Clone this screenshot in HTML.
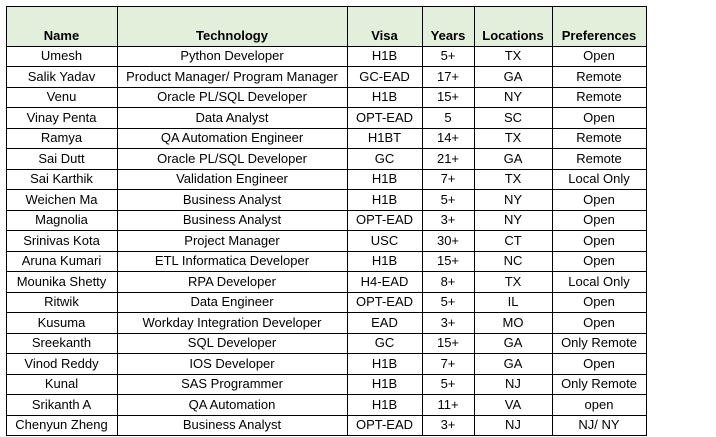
<!DOCTYPE html>
<html>
<head>
<meta charset="utf-8">
<style>
html,body{margin:0;padding:0;background:#fff;}
body{width:716px;height:437px;position:relative;overflow:hidden;font-family:"Liberation Sans",Arial,sans-serif;font-size:13px;color:#000;}
.hbg{position:absolute;left:6px;top:6px;width:640px;height:40px;background:#e2efda;}
.r{position:absolute;left:6px;display:flex;white-space:nowrap;}
.r div{text-align:center;overflow:visible;}
.c1{width:111px}.c2{width:230px}.c3{width:75px}.c4{width:52px}.c5{width:78px}.c6{width:94px}
.h{top:6px;height:40px;font-weight:bold;}
.h div{padding-top:20px;line-height:20px;height:20px;}
.v{position:absolute;top:6px;height:430px;width:1px;background:#000;}
.l{position:absolute;left:6px;width:641px;height:1px;background:#000;}
</style>
</head>
<body>
<div class="hbg"></div>

<div class="r h"><div class="c1">Name</div><div class="c2">Technology</div><div class="c3">Visa</div><div class="c4">Years</div><div class="c5">Locations</div><div class="c6">Preferences</div></div>

<div class="r" style="top:46px;height:20px;line-height:20px"><div class="c1">Umesh</div><div class="c2">Python Developer</div><div class="c3">H1B</div><div class="c4">5+</div><div class="c5">TX</div><div class="c6">Open</div></div>
<div class="r" style="top:66px;height:21px;line-height:21px"><div class="c1">Salik Yadav</div><div class="c2">Product Manager/ Program Manager</div><div class="c3">GC-EAD</div><div class="c4">17+</div><div class="c5">GA</div><div class="c6">Remote</div></div>
<div class="r" style="top:87px;height:20px;line-height:20px"><div class="c1">Venu</div><div class="c2">Oracle PL/SQL Developer</div><div class="c3">H1B</div><div class="c4">15+</div><div class="c5">NY</div><div class="c6">Remote</div></div>
<div class="r" style="top:107px;height:21px;line-height:21px"><div class="c1">Vinay Penta</div><div class="c2">Data Analyst</div><div class="c3">OPT-EAD</div><div class="c4">5</div><div class="c5">SC</div><div class="c6">Open</div></div>
<div class="r" style="top:128px;height:20px;line-height:20px"><div class="c1">Ramya</div><div class="c2">QA Automation Engineer</div><div class="c3">H1BT</div><div class="c4">14+</div><div class="c5">TX</div><div class="c6">Remote</div></div>
<div class="r" style="top:148px;height:21px;line-height:21px"><div class="c1">Sai Dutt</div><div class="c2">Oracle PL/SQL Developer</div><div class="c3">GC</div><div class="c4">21+</div><div class="c5">GA</div><div class="c6">Remote</div></div>
<div class="r" style="top:169px;height:20px;line-height:20px"><div class="c1">Sai Karthik</div><div class="c2">Validation Engineer</div><div class="c3">H1B</div><div class="c4">7+</div><div class="c5">TX</div><div class="c6">Local Only</div></div>
<div class="r" style="top:189px;height:21px;line-height:21px"><div class="c1">Weichen Ma</div><div class="c2">Business Analyst</div><div class="c3">H1B</div><div class="c4">5+</div><div class="c5">NY</div><div class="c6">Open</div></div>
<div class="r" style="top:210px;height:20px;line-height:20px"><div class="c1">Magnolia</div><div class="c2">Business Analyst</div><div class="c3">OPT-EAD</div><div class="c4">3+</div><div class="c5">NY</div><div class="c6">Open</div></div>
<div class="r" style="top:230px;height:21px;line-height:21px"><div class="c1">Srinivas Kota</div><div class="c2">Project Manager</div><div class="c3">USC</div><div class="c4">30+</div><div class="c5">CT</div><div class="c6">Open</div></div>
<div class="r" style="top:251px;height:20px;line-height:20px"><div class="c1">Aruna Kumari</div><div class="c2">ETL Informatica Developer</div><div class="c3">H1B</div><div class="c4">15+</div><div class="c5">NC</div><div class="c6">Open</div></div>
<div class="r" style="top:271px;height:21px;line-height:21px"><div class="c1">Mounika Shetty</div><div class="c2">RPA Developer</div><div class="c3">H4-EAD</div><div class="c4">8+</div><div class="c5">TX</div><div class="c6">Local Only</div></div>
<div class="r" style="top:292px;height:20px;line-height:20px"><div class="c1">Ritwik</div><div class="c2">Data Engineer</div><div class="c3">OPT-EAD</div><div class="c4">5+</div><div class="c5">IL</div><div class="c6">Open</div></div>
<div class="r" style="top:312px;height:21px;line-height:21px"><div class="c1">Kusuma</div><div class="c2">Workday Integration Developer</div><div class="c3">EAD</div><div class="c4">3+</div><div class="c5">MO</div><div class="c6">Open</div></div>
<div class="r" style="top:333px;height:20px;line-height:20px"><div class="c1">Sreekanth</div><div class="c2">SQL Developer</div><div class="c3">GC</div><div class="c4">15+</div><div class="c5">GA</div><div class="c6">Only Remote</div></div>
<div class="r" style="top:353px;height:21px;line-height:21px"><div class="c1">Vinod Reddy</div><div class="c2">IOS Developer</div><div class="c3">H1B</div><div class="c4">7+</div><div class="c5">GA</div><div class="c6">Open</div></div>
<div class="r" style="top:374px;height:20px;line-height:20px"><div class="c1">Kunal</div><div class="c2">SAS Programmer</div><div class="c3">H1B</div><div class="c4">5+</div><div class="c5">NJ</div><div class="c6">Only Remote</div></div>
<div class="r" style="top:394px;height:21px;line-height:21px"><div class="c1">Srikanth A</div><div class="c2">QA Automation</div><div class="c3">H1B</div><div class="c4">11+</div><div class="c5">VA</div><div class="c6">open</div></div>
<div class="r" style="top:415px;height:20px;line-height:20px"><div class="c1">Chenyun Zheng</div><div class="c2">Business Analyst</div><div class="c3">OPT-EAD</div><div class="c4">3+</div><div class="c5">NJ</div><div class="c6">NJ/ NY</div></div>

<!-- vertical lines -->
<div class="v" style="left:6px"></div>
<div class="v" style="left:117px"></div>
<div class="v" style="left:347px"></div>
<div class="v" style="left:422px"></div>
<div class="v" style="left:474px"></div>
<div class="v" style="left:552px"></div>
<div class="v" style="left:646px"></div>

<!-- horizontal lines -->
<div class="l" style="top:6px"></div>
<div class="l" style="top:46px"></div>
<div class="l" style="top:66px"></div>
<div class="l" style="top:87px"></div>
<div class="l" style="top:107px"></div>
<div class="l" style="top:128px"></div>
<div class="l" style="top:148px"></div>
<div class="l" style="top:169px"></div>
<div class="l" style="top:189px"></div>
<div class="l" style="top:210px"></div>
<div class="l" style="top:230px"></div>
<div class="l" style="top:251px"></div>
<div class="l" style="top:271px"></div>
<div class="l" style="top:292px"></div>
<div class="l" style="top:312px"></div>
<div class="l" style="top:333px"></div>
<div class="l" style="top:353px"></div>
<div class="l" style="top:374px"></div>
<div class="l" style="top:394px"></div>
<div class="l" style="top:415px"></div>
<div class="l" style="top:435px"></div>
</body>
</html>
